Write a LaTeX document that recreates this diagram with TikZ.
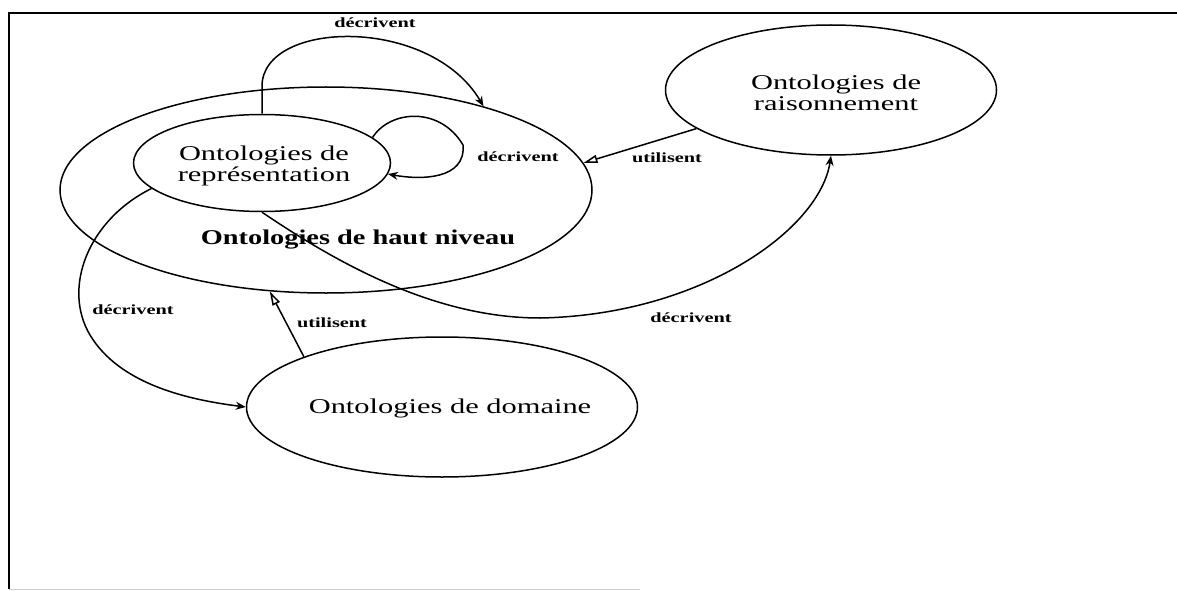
\documentclass[tikz,border=0pt]{standalone}
\usepackage{fontspec}
\setmainfont{Liberation Serif}
\usetikzlibrary{shapes.geometric,arrows.meta}
\newcommand{\sx}[1]{\scalebox{1.45}[1]{#1}}
\begin{document}
\begin{tikzpicture}[x=1pt,y=-1pt,
  ell/.style={ellipse, draw, line width=1.5pt, inner sep=0pt},
  big/.style={font=\fontsize{21}{21}\selectfont, align=center, inner sep=0pt},
  lbl/.style={font=\fontsize{14}{14}\selectfont\bfseries, inner sep=0pt},
  conn/.style={line width=1.5pt},
  fillarrow/.style={-{Stealth[length=10pt,width=8pt]}},
  openarrow/.style={-{Triangle[open,length=14pt,width=8pt]}}]
\useasboundingbox (0,0) rectangle (1177,591);
% frame
\draw[line width=2pt] (9,589) -- (9,13) -- (1177,13);
\draw[gray!40, line width=1pt] (9,589) -- (640,589);
% ellipses
\node[ell, minimum width=532pt, minimum height=206pt] (haut) at (326,190) {};
\node[ell, minimum width=257pt, minimum height=97pt] (rep) at (262,163) {};
\node[ell, minimum width=331pt, minimum height=130pt] (rais) at (831,90) {};
\node[ell, minimum width=391pt, minimum height=140pt] (dom) at (442,407) {};
% texts
\node[big] (reptxt) at (264,166) {\sx{Ontologies de}\\\sx{représentation}};
\node[big] (raistxt) at (836,93) {\sx{Ontologies de}\\\sx{raisonnement}};
\node[big] (domtxt) at (450,408) {\sx{Ontologies de domaine}};
\node[big, font=\fontsize{21}{21}\selectfont\bfseries] (hauttxt) at (358,240) {\scalebox{1.35}[1]{Ontologies de haut niveau}};
% labels
\node[lbl] (l1) at (375,23) {\sx{décrivent}};
\node[lbl] (l2) at (518,157) {\sx{décrivent}};
\node[lbl] (l3) at (667,158) {\sx{utilisent}};
\node[lbl] (l4) at (133,310) {\sx{décrivent}};
\node[lbl] (l5) at (332,323) {\sx{utilisent}};
\node[lbl] (l6) at (691,318) {\sx{décrivent}};
% connectors
\draw[conn,fillarrow] (rep.north) -- (rep.north |- haut.north) .. controls (262,20) and (430,15) .. (haut.28.5);
\draw[conn,fillarrow] (rep.13.5) .. controls (390,110) and (440,106) .. (463,145) .. controls (466,180) and (420,180) .. (rep.-5);
\draw[conn,openarrow] (rais.196) -- (haut.6);
\draw[conn,fillarrow] (rep.south) .. controls (330,258) and (430,318) .. (540,318) .. controls (700,315) and (820,230) .. (rais.south);
\draw[conn,fillarrow] (rep.193) .. controls (88,220) and (62,288) .. (90,335) .. controls (120,385) and (190,400) .. (dom.west);
\draw[conn,openarrow] (dom.160) -- (haut.241);
\end{tikzpicture}
\end{document}
